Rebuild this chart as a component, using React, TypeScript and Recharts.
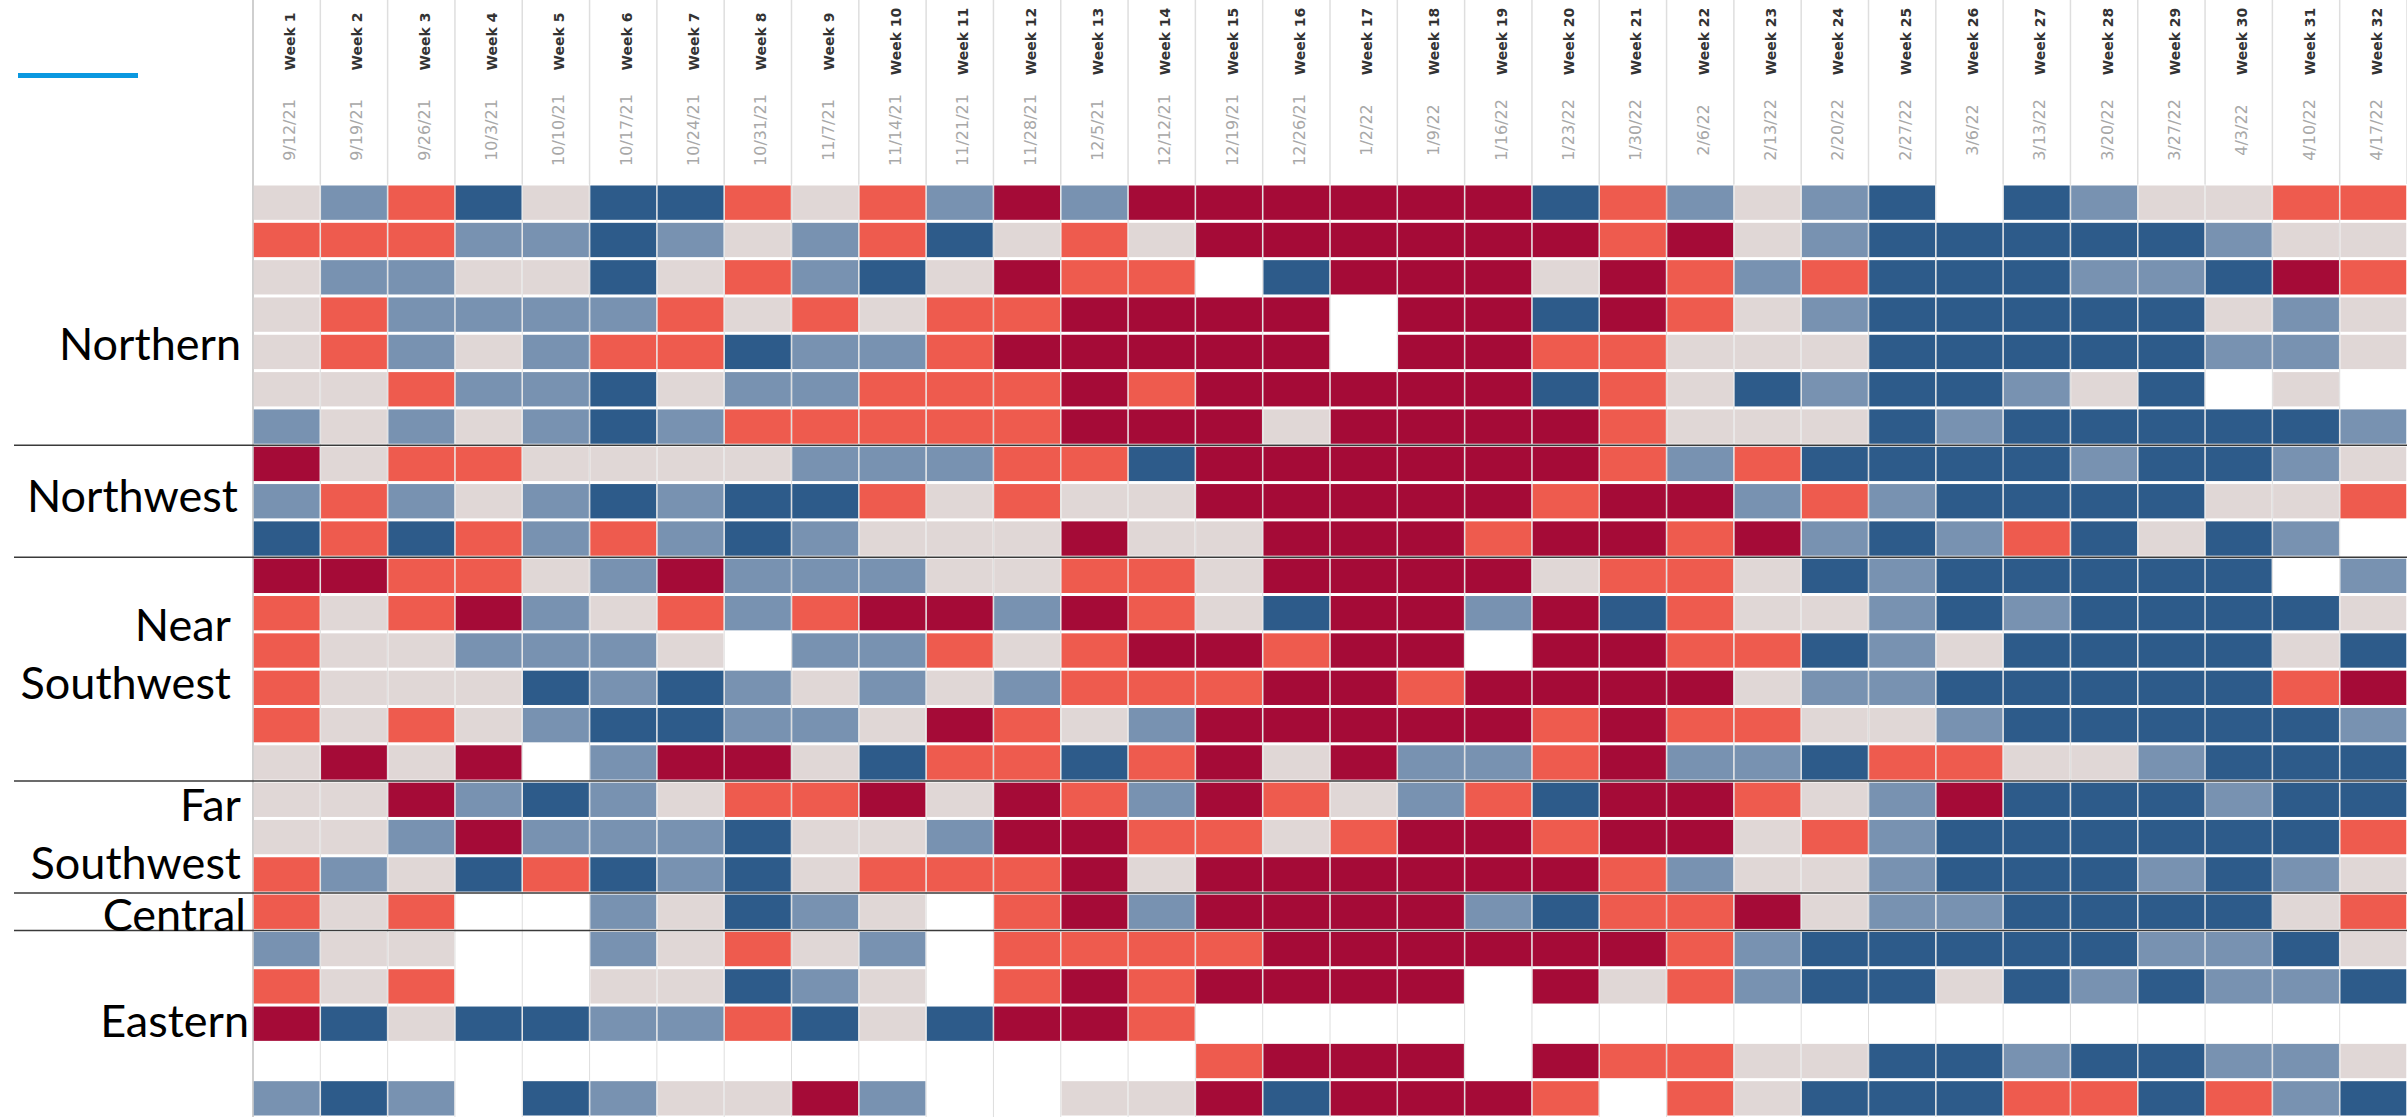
import { ScatterChart, Scatter, XAxis, YAxis, ReferenceLine } from 'recharts';

// column headers
const weeks = [
  'Week 1', 'Week 2', 'Week 3', 'Week 4', 'Week 5', 'Week 6', 'Week 7', 'Week 8',
  'Week 9', 'Week 10', 'Week 11', 'Week 12', 'Week 13', 'Week 14', 'Week 15', 'Week 16',
  'Week 17', 'Week 18', 'Week 19', 'Week 20', 'Week 21', 'Week 22', 'Week 23', 'Week 24',
  'Week 25', 'Week 26', 'Week 27', 'Week 28', 'Week 29', 'Week 30', 'Week 31', 'Week 32'
];
const weekDates = [
  '9/12/21', '9/19/21', '9/26/21', '10/3/21', '10/10/21', '10/17/21', '10/24/21', '10/31/21',
  '11/7/21', '11/14/21', '11/21/21', '11/28/21', '12/5/21', '12/12/21', '12/19/21', '12/26/21',
  '1/2/22', '1/9/22', '1/16/22', '1/23/22', '1/30/22', '2/6/22', '2/13/22', '2/20/22',
  '2/27/22', '3/6/22', '3/13/22', '3/20/22', '3/27/22', '4/3/22', '4/10/22', '4/17/22'
];

// one string per row, one letter per week
// D = dark blue, B = light blue, G = grey, S = salmon, C = crimson, W = no data
const northern = [
  'GBSDGDDSGSBCBCCC' + 'CCCDSBGBDWDBGGSS',
  'SSSBBDBGBSDGSGCC' + 'CCCCSCGBDDDDDBGG',
  'GBBGGDGSBDGCSSWD' + 'CCCGCSBSDDDBBDCS',
  'GSBBBBSGSGSSCCCC' + 'WCCDCSGBDDDDDGBG',
  'GSBGBSSDBBSCCCCC' + 'WCCSSGGGDDDDDBBG',
  'GGSBBDGBBSSSCSCC' + 'CCCDSGDBDDBGDWGW',
  'BGBGBDBSSSSSCCCG' + 'CCCCSGGGDBDDDDDB'
];
const northwest = [
  'CGSSGGGGBBBSSDCC' + 'CCCCSBSDDDDBDDBG',
  'BSBGBDBDDSGSGGCC' + 'CCCSCCBSBDDDDGGS',
  'DSDSBSBDBGGGCGGC' + 'CCSCCSCBDBSDGDBW'
];
const nearSouthwest = [
  'CCSSGBCBBBGGSSGC' + 'CCCGSSGDBDDDDDWB',
  'SGSCBGSBSCCBCSGD' + 'CCBCDSGGBDBDDDDG',
  'SGGBBBGWBBSGSCCS' + 'CCWCCSSDBGDDDDGD',
  'SGGGDBDBGBGBSSSC' + 'CSCCCCGBBDDDDDSC',
  'SGSGBDDBBGCSGBCC' + 'CCCSCSSGGBDDDDDB',
  'GCGCWBCCGDSSDSCG' + 'CBBSCBBDSSGGBDDD'
];
const farSouthwest = [
  'GGCBDBGSSCGCSBCS' + 'GBSDCCSGBCDDDBDD',
  'GGBCBBBDGGBCCSSG' + 'SCCSCCGSBDDDDDDS',
  'SBGDSDBDGSSSCGCC' + 'CCCCSBGGBDDDBDBG'
];
const central = [
  'SGSWWBGDBGWSCBCC' + 'CCBDSSCGBBDDDDGS'
];
const eastern = [
  'BGGWWBGSGBWSSSSC' + 'CCCCCSBDDDDDBBDG',
  'SGSWWGGDBGWSCSCC' + 'CCWCGSBDDGDBDBBD',
  'CDGDDBBSDGDCCSWW' + 'WWWWWWWWWWWWWWWW',
  'WWWWWWWWWWWWWWSC' + 'CCWCSSGGDDBDDBBG',
  'BDBWDBGGCBWWGGCD' + 'CCCSWSGDDDSSDSBD'
];

const regions = [
  { lines: ['Northern'], rows: northern },
  { lines: ['Northwest'], rows: northwest },
  { lines: ['Near', 'Southwest'], rows: nearSouthwest },
  { lines: ['Far', 'Southwest'], rows: farSouthwest },
  { lines: ['Central'], rows: central },
  { lines: ['Eastern'], rows: eastern }
];

const COLORS: Record<string, string> = {
  D: '#2d5b8a',
  B: '#7892b1',
  G: '#e0d7d6',
  S: '#ee5b4e',
  C: '#a50b37'
};

// label placement tweaks (right edge x, vertical nudge)
const LABEL_POS = [
  { right: 241, dy: 29 },
  { right: 238, dy: -5 },
  { right: 231, dy: -15 },
  { right: 241, dy: -3 },
  { right: 246, dy: 3 },
  { right: 249, dy: -3 }
];

const WIDTH = 2407;
const HEIGHT = 1117;
const HEADER_H = 184;
const LEFT_W = 253;
const allRows = regions.flatMap((r) => r.rows);
const COL_W = (WIDTH - LEFT_W) / weeks.length;
const ROW_H = (HEIGHT - HEADER_H) / allRows.length;

const cells: { week: number; row: number; level: string }[] = [];
allRows.forEach((line, r) => {
  line.split('').forEach((code, c) => {
    if (code !== 'W') cells.push({ week: c + 1, row: r + 1, level: code });
  });
});

// region centers and separators
const regionCenters: number[] = [];
const separators: number[] = [];
let acc = 0;
regions.forEach((reg, i) => {
  regionCenters.push(acc + (reg.rows.length + 1) / 2);
  acc += reg.rows.length;
  if (i < regions.length - 1) separators.push(acc + 0.5);
});

const Tile = (props: any) => {
  const { cx, cy, payload } = props;
  return (
    <rect
      x={cx - COL_W / 2 + 0.75}
      y={cy - ROW_H / 2 + 1.5}
      width={COL_W - 1.5}
      height={ROW_H - 3}
      fill={COLORS[payload.level]}
    />
  );
};

const WeekTick = (props: any) => {
  const { x, payload } = props;
  const i = payload.value - 1;
  if (i < 0 || i >= weeks.length) return null;
  return (
    <g>
      <line x1={x - COL_W / 2} x2={x - COL_W / 2} y1={0} y2={HEADER_H} stroke={i === 0 ? '#cfcfcf' : '#dedede'} strokeWidth={i === 0 ? 2 : 1.5} />
      {i === weeks.length - 1 && (
        <line x1={x + COL_W / 2} x2={x + COL_W / 2} y1={0} y2={HEADER_H} stroke="#dedede" strokeWidth={1.5} />
      )}
      <text
        transform={`translate(${x + 8.5},41.5) rotate(-90)`}
        textAnchor="middle"
        fontFamily="DejaVu Sans"
        fontWeight="bold"
        fontSize={14}
        fill="#333"
      >
        {weeks[i]}
      </text>
      <text
        transform={`translate(${x + 8.5},130) rotate(-90)`}
        textAnchor="middle"
        fontFamily="DejaVu Sans"
        fontSize={16}
        fill="#a8a8a8"
      >
        {weekDates[i]}
      </text>
    </g>
  );
};

const RegionTick = (props: any) => {
  const { y, payload } = props;
  const idx = regionCenters.indexOf(payload.value);
  if (idx < 0) return null;
  const reg = regions[idx];
  const pos = LABEL_POS[idx];
  const lh = 58;
  const top = y + pos.dy - ((reg.lines.length - 1) * lh) / 2 + 16;
  return (
    <text textAnchor="end" fontFamily="Lato" fontSize={45} fill="#000">
      {reg.lines.map((l, k) => (
        <tspan key={k} x={pos.right} y={top + k * lh}>{l}</tspan>
      ))}
    </text>
  );
};

export default function App() {
  return (
    <div style={{ position: 'absolute', left: 0, top: 0, width: WIDTH, height: HEIGHT, background: '#fff', overflow: 'hidden' }}>
      <div style={{ position: 'absolute', left: 18, top: 73, width: 120, height: 5, background: '#0a98e0' }} />
      <ScatterChart width={WIDTH} height={HEIGHT} margin={{ top: 0, right: 0, bottom: 0, left: 0 }}>
        <XAxis
          type="number"
          dataKey="week"
          orientation="top"
          domain={[0.5, weeks.length + 0.5]}
          ticks={weeks.map((_, i) => i + 1)}
          interval={0}
          height={HEADER_H}
          axisLine={false}
          tickLine={false}
          tick={<WeekTick />}
        />
        <YAxis
          type="number"
          dataKey="row"
          reversed
          domain={[0.5, allRows.length + 0.5]}
          ticks={regionCenters}
          interval={0}
          width={LEFT_W}
          axisLine={false}
          tickLine={false}
          tick={<RegionTick />}
        />
        {weeks.map((_, i) => (
          <ReferenceLine key={'v' + i} x={i + 0.5} stroke={i === 0 ? '#cfcfcf' : '#dedede'} strokeWidth={i === 0 ? 2 : 1} />
        ))}
        <Scatter data={cells} shape={<Tile />} isAnimationActive={false} />
        {separators.map((s) => (
          <ReferenceLine
            key={'s' + s}
            ifOverflow="visible"
            segment={[{ x: 0.5 - (LEFT_W - 14) / COL_W, y: s }, { x: weeks.length + 0.5, y: s }]}
            stroke="#3a3a3a"
            strokeWidth={1.5}
          />
        ))}
      </ScatterChart>
    </div>
  );
}
